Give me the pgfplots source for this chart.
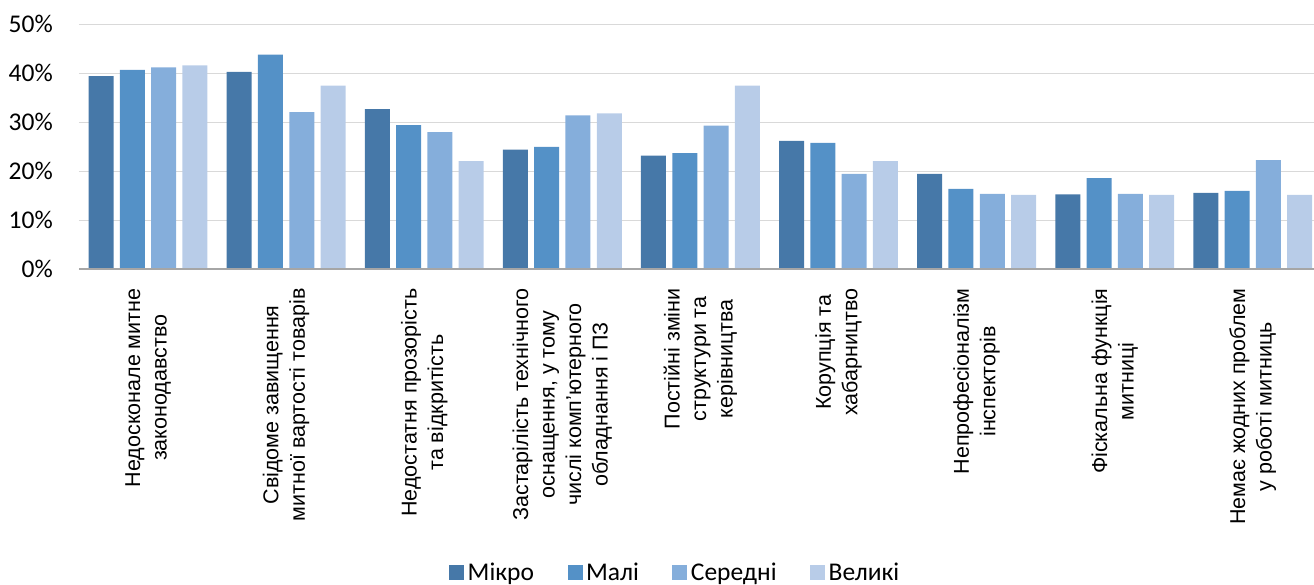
\documentclass[border=0pt]{standalone}
\usepackage{pgfplots}
\pgfplotsset{compat=1.18}
\usepackage{fontspec}
\setmainfont{Liberation Sans}
\newfontfamily\carlito{Carlito}
\definecolor{cMikro}{HTML}{4678A8}
\definecolor{cMali}{HTML}{5491C7}
\definecolor{cSer}{HTML}{85AEDB}
\definecolor{cVel}{HTML}{B8CCE8}
\definecolor{gridc}{HTML}{D9D9D9}
\definecolor{axc}{HTML}{A6A6A6}
\begin{document}
\begin{tikzpicture}
\path[use as bounding box] (-79pt,-315.7pt) rectangle (1235pt,269.3pt);
\begin{axis}[
  at={(0pt,0pt)}, anchor=south west,
  scale only axis, width=1235pt, height=245pt,
  xmin=-0.5, xmax=8.443, ymin=0, ymax=50,
  ybar=6.3pt, bar width=25pt,
  axis line style={draw=none},
  major tick length=0pt,
  ytick={0,10,20,30,40,50},
  yticklabels={0\%,10\%,20\%,30\%,40\%,50\%},
  yticklabel style={font=\carlito\fontsize{25.5}{30}\selectfont, anchor=east, inner sep=0pt, xshift=-26pt},
  ymajorgrids, grid style={gridc, line width=1.4pt},
  xtick={0,1,2,3,4,5,6,7,8},
  xticklabels={
    {Недосконале митне\\законодавство},
    {Свідоме завищення\\митної вартості товарів},
    {Недостатня прозорість\\та відкритість},
    {Застарілість технічного\\оснащення, у тому\\числі комп’ютерного\\обладнання і ПЗ},
    {Постійні зміни\\структури та\\керівництва},
    {Корупція та\\хабарництво},
    {Непрофесіоналізм\\інспекторів},
    {Фіскальна функція\\митниці},
    {Немає жодних проблем\\у роботі митниць}},
  xticklabel style={font=\fontsize{21.5}{26.5}\selectfont, rotate=90, anchor=east, align=center, inner sep=0pt},
  xticklabel shift=19pt,
  legend columns=4,
  legend style={at={(axis description cs:0.4834,-1.238)}, anchor=center, draw=none,
    font=\carlito\fontsize{25.5}{30}\selectfont,
    nodes={inner sep=3.5pt},
    /tikz/every even column/.append style={column sep=30pt}},
  legend image code/.code={\fill[#1] (0pt,-7.5pt) rectangle (15pt,7.5pt);},
]
\addplot[fill=cMikro, draw=none] coordinates {(0,39.4) (1,40.3) (2,32.7) (3,24.4) (4,23.2) (5,26.2) (6,19.5) (7,15.3) (8,15.6)};
\addplot[fill=cMali, draw=none] coordinates {(0,40.7) (1,43.8) (2,29.4) (3,25.0) (4,23.7) (5,25.8) (6,16.4) (7,18.6) (8,16.0)};
\addplot[fill=cSer, draw=none] coordinates {(0,41.2) (1,32.1) (2,28.0) (3,31.4) (4,29.3) (5,19.5) (6,15.4) (7,15.4) (8,22.3)};
\addplot[fill=cVel, draw=none] coordinates {(0,41.6) (1,37.5) (2,22.1) (3,31.8) (4,37.5) (5,22.1) (6,15.2) (7,15.2) (8,15.2)};
\legend{Мікро,Малі,Середні,Великі}
\draw[axc, line width=2pt] (rel axis cs:0,0) -- (rel axis cs:1,0);
\end{axis}
\end{tikzpicture}
\end{document}
